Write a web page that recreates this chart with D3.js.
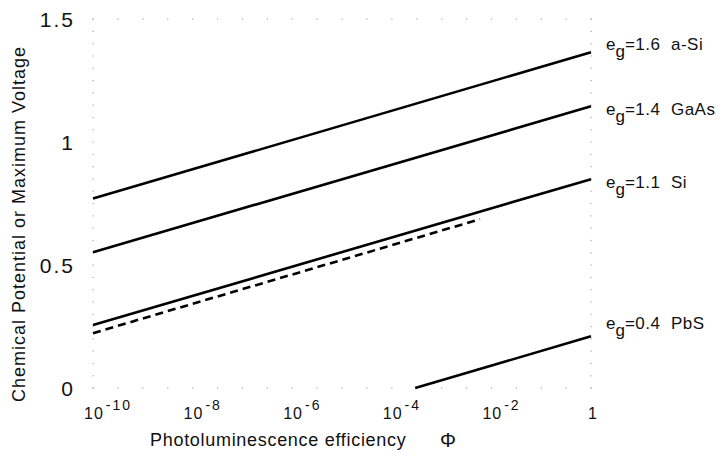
<!DOCTYPE html>
<html>
<head>
<meta charset="utf-8">
<script src="https://cdn.jsdelivr.net/npm/d3@7"></script>
<style>
  body { margin: 0; background: #fff; }
  text { font-family: "Liberation Sans", Arial, sans-serif; fill: #111; }
</style>
</head>
<body>
<div id="svg_container"></div>
<script>
// Values ------------------------------------------------------------------------------------------

var phiTicks = [1e-10, 1e-8, 1e-6, 1e-4, 1e-2, 1];
var phiExps = ["-10", "-8", "-6", "-4", "-2", ""];
var voltTicks = [0, 0.5, 1, 1.5];

var materials = ["a-Si", "GaAs", "Si", "PbS"];
var gaps = ["1.6", "1.4", "1.1", "0.4"];

// [phi, volts] at the ends of each line
var aSi  = [[1e-10, 0.77],  [1, 1.365]];
var GaAs = [[1e-10, 0.552], [1, 1.145]];
var Si   = [[1e-10, 0.256], [1, 0.849]];
var PbS  = [[10 ** -3.53, 0], [1, 0.21]];
var SiDashed = [[1e-10, 0.223], [10 ** -2.23, 0.686]];

// Chart -------------------------------------------------------------------------------------------

function drawChart() {
  var svgWidth = 723, svgHeight = 466;
  var margin = {top: 19, left: 93, right: 132, bottom: 78};

  var svg = d3.select("#svg_container").append("svg")
    .attr("width", svgWidth)
    .attr("height", svgHeight);

  var x = d3.scaleLog().domain([1e-10, 1]).range([margin.left, svgWidth - margin.right]);
  var y = d3.scaleLinear().domain([0, 1.5]).range([svgHeight - margin.bottom, margin.top]);

  // dotted frame
  var frame = svg.append("g").attr("fill", "#aaa");
  var xDots = d3.range(-10, 0.01, 0.5).map(function(e) { return x(10 ** e); });
  var yDots = d3.range(0, 1.501, 0.05).map(function(v) { return y(v); });
  xDots.forEach(function(px) {
    [y(0), y(1.5)].forEach(function(py) {
      frame.append("rect").attr("x", px - 0.5).attr("y", py - 0.5).attr("width", 1.2).attr("height", 1.2);
    });
  });
  yDots.forEach(function(py) {
    [x(1e-10), x(1)].forEach(function(px) {
      frame.append("rect").attr("x", px - 0.5).attr("y", py - 0.5).attr("width", 1.2).attr("height", 1.2);
    });
  });

  // y tick labels
  svg.append("g").selectAll("text")
    .data(voltTicks)
    .enter().append("text")
      .attr("x", 75)
      .attr("y", function(d) { return y(d); })
      .attr("dy", "0.36em")
      .attr("text-anchor", "end")
      .attr("font-size", "21px")
      .attr("letter-spacing", "2px")
      .text(function(d) { return d; });

  // x tick labels
  var xt = svg.append("g").selectAll("text")
    .data(phiTicks)
    .enter().append("text")
      .attr("x", function(d) { return x(d) - (d === 1 ? 3 : 9); })
      .attr("y", 419)
      .attr("font-size", "16px")
      .attr("letter-spacing", "1px");
  xt.append("tspan").text(function(d) { return d === 1 ? "1" : "10"; });
  xt.append("tspan")
    .attr("dy", -9)
    .attr("dx", 2)
    .attr("font-size", "14px")
    .attr("letter-spacing", "2px")
    .text(function(d, i) { return phiExps[i]; });

  // axis titles
  svg.append("text")
    .attr("x", 150)
    .attr("y", 446)
    .attr("font-size", "18px")
    .attr("letter-spacing", "0.7px")
    .text("Photoluminescence efficiency");
  svg.append("text")
    .attr("x", 448)
    .attr("y", 447)
    .attr("text-anchor", "middle")
    .attr("font-family", "'Liberation Serif', 'Times New Roman', serif")
    .attr("font-size", "20px")
    .text("\u03A6");
  svg.append("text")
    .attr("transform", "translate(25," + 224 + ") rotate(-90)")
    .attr("text-anchor", "middle")
    .attr("font-size", "18px")
    .attr("letter-spacing", "1px")
    .text("Chemical Potential or Maximum Voltage");

  // lines
  var line = d3.line()
    .x(function(d) { return x(d[0]); })
    .y(function(d) { return y(d[1]); });

  var series = [aSi, GaAs, Si, PbS];
  svg.append("g").selectAll("path")
    .data(series)
    .enter().append("path")
      .attr("d", line)
      .attr("fill", "none")
      .attr("stroke", "#000")
      .attr("stroke-width", 2.6);

  svg.append("path")
    .datum(SiDashed)
    .attr("d", line)
    .attr("fill", "none")
    .attr("stroke", "#000")
    .attr("stroke-width", 2.6)
    .attr("stroke-dasharray", "8,5");

  // line labels
  var labelDy = [-2, 9, 9, -7];
  var labels = svg.append("g").selectAll("text")
    .data(series)
    .enter().append("text")
      .attr("x", 606)
      .attr("y", function(d, i) { return y(d[d.length - 1][1]) + labelDy[i]; })
      .attr("font-size", "17px");
  labels.append("tspan").text("e");
  labels.append("tspan").attr("dy", 7).attr("font-size", "17px").text("g");
  labels.append("tspan").attr("dy", -7).text(function(d, i) { return "=" + gaps[i] + "  " + materials[i]; })
    .attr("letter-spacing", "0.5px")
    .attr("xml:space", "preserve")
    .style("white-space", "pre");
}

drawChart();
</script>
</body>
</html>
